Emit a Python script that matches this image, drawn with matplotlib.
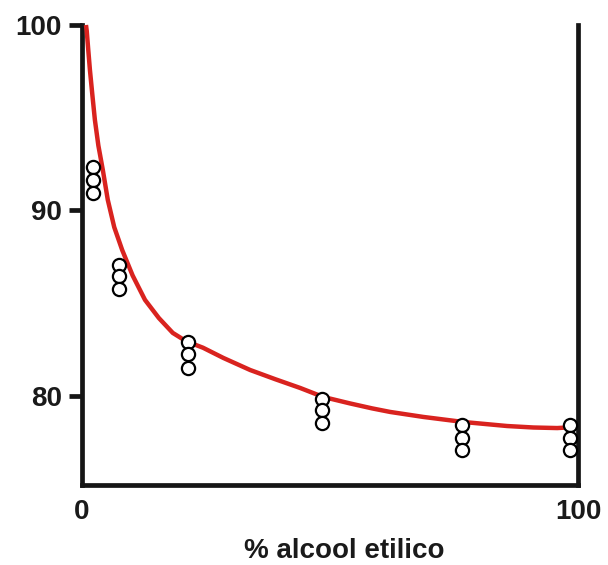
import matplotlib
matplotlib.use("Agg")
import matplotlib.pyplot as plt
import numpy as np

plt.rcParams['font.family'] = ['Liberation Sans', 'DejaVu Sans']

# measured points (x = % alcool etilico, y = value), three replicates per concentration
pt_x = [2.2, 2.2, 2.2, 7.5, 7.5, 7.5, 21.3, 21.3, 21.3, 48.3, 48.3, 48.3, 76.6, 76.6, 76.6, 98.4, 98.4, 98.4]
pt_y = [92.35, 91.65, 90.95, 87.06, 86.45, 85.77, 82.9, 82.25, 81.5, 79.84, 79.25, 78.54, 78.44, 77.74, 77.1, 78.44, 77.74, 77.1]

# fitted curve
curve_x = [0.8, 0.95, 1.25, 1.6, 2.1, 2.6, 3.3, 4.2, 5.2, 6.5, 8.1, 10.2, 12.7, 15.5, 18.3, 21.0, 24.4,
           28.5, 33.9, 39.0, 44.0, 48.6, 54.0, 58.5, 62.1, 68.8, 76.8, 85.7, 91.0, 95.8, 97.8]
curve_y = [100.0, 99.7, 98.7, 97.57, 96.2, 94.88, 93.5, 92.18, 90.57, 89.1, 87.87, 86.5, 85.18, 84.2, 83.4, 82.95, 82.6,
           82.05, 81.4, 80.9, 80.43, 79.95, 79.6, 79.33, 79.14, 78.87, 78.6, 78.38, 78.3, 78.27, 78.3]

yticks = [80, 90, 100]
xticks = [0, 100]
xlabel = "% alcool etilico"

fig = plt.figure(figsize=(6.08, 5.65), dpi=100)
ax = fig.add_axes([82/608, 1-485/565, (578-82)/608, (485-25)/565])

ax.plot(curve_x, curve_y, color='#d9231f', lw=3.2, solid_capstyle='butt', solid_joinstyle='round',
        zorder=3, clip_on=False)
ax.plot(pt_x, pt_y, 'o', ms=9.5, mfc='white', mec='black', mew=1.6, zorder=4, clip_on=False)

ax.set_xlim(0, 100)
ax.set_ylim(75.2, 100)
ax.spines['top'].set_visible(False)
for s in ['left', 'right', 'bottom']:
    ax.spines[s].set_linewidth(3.4)
    ax.spines[s].set_color('#151515')
    ax.spines[s].set_zorder(2)

ax.set_yticks(yticks)
ax.set_yticklabels([str(v) for v in yticks], fontsize=20, fontweight='bold', color='#1a1a1a')
ax.tick_params(axis='y', direction='out', length=9.5, width=3.4, pad=5, color='#151515')
ax.set_xticks(xticks)
ax.set_xticklabels([str(v) for v in xticks], fontsize=20, fontweight='bold', color='#1a1a1a')
ax.tick_params(axis='x', length=0, pad=10)
ax.set_xlabel(xlabel, fontsize=20, fontweight='bold', color='#1a1a1a', labelpad=9)
ax.xaxis.set_label_coords((344 - 82) / 496, -0.115)
ax.xaxis.label.set_va('top')

fig.savefig("out.png", dpi=100)
